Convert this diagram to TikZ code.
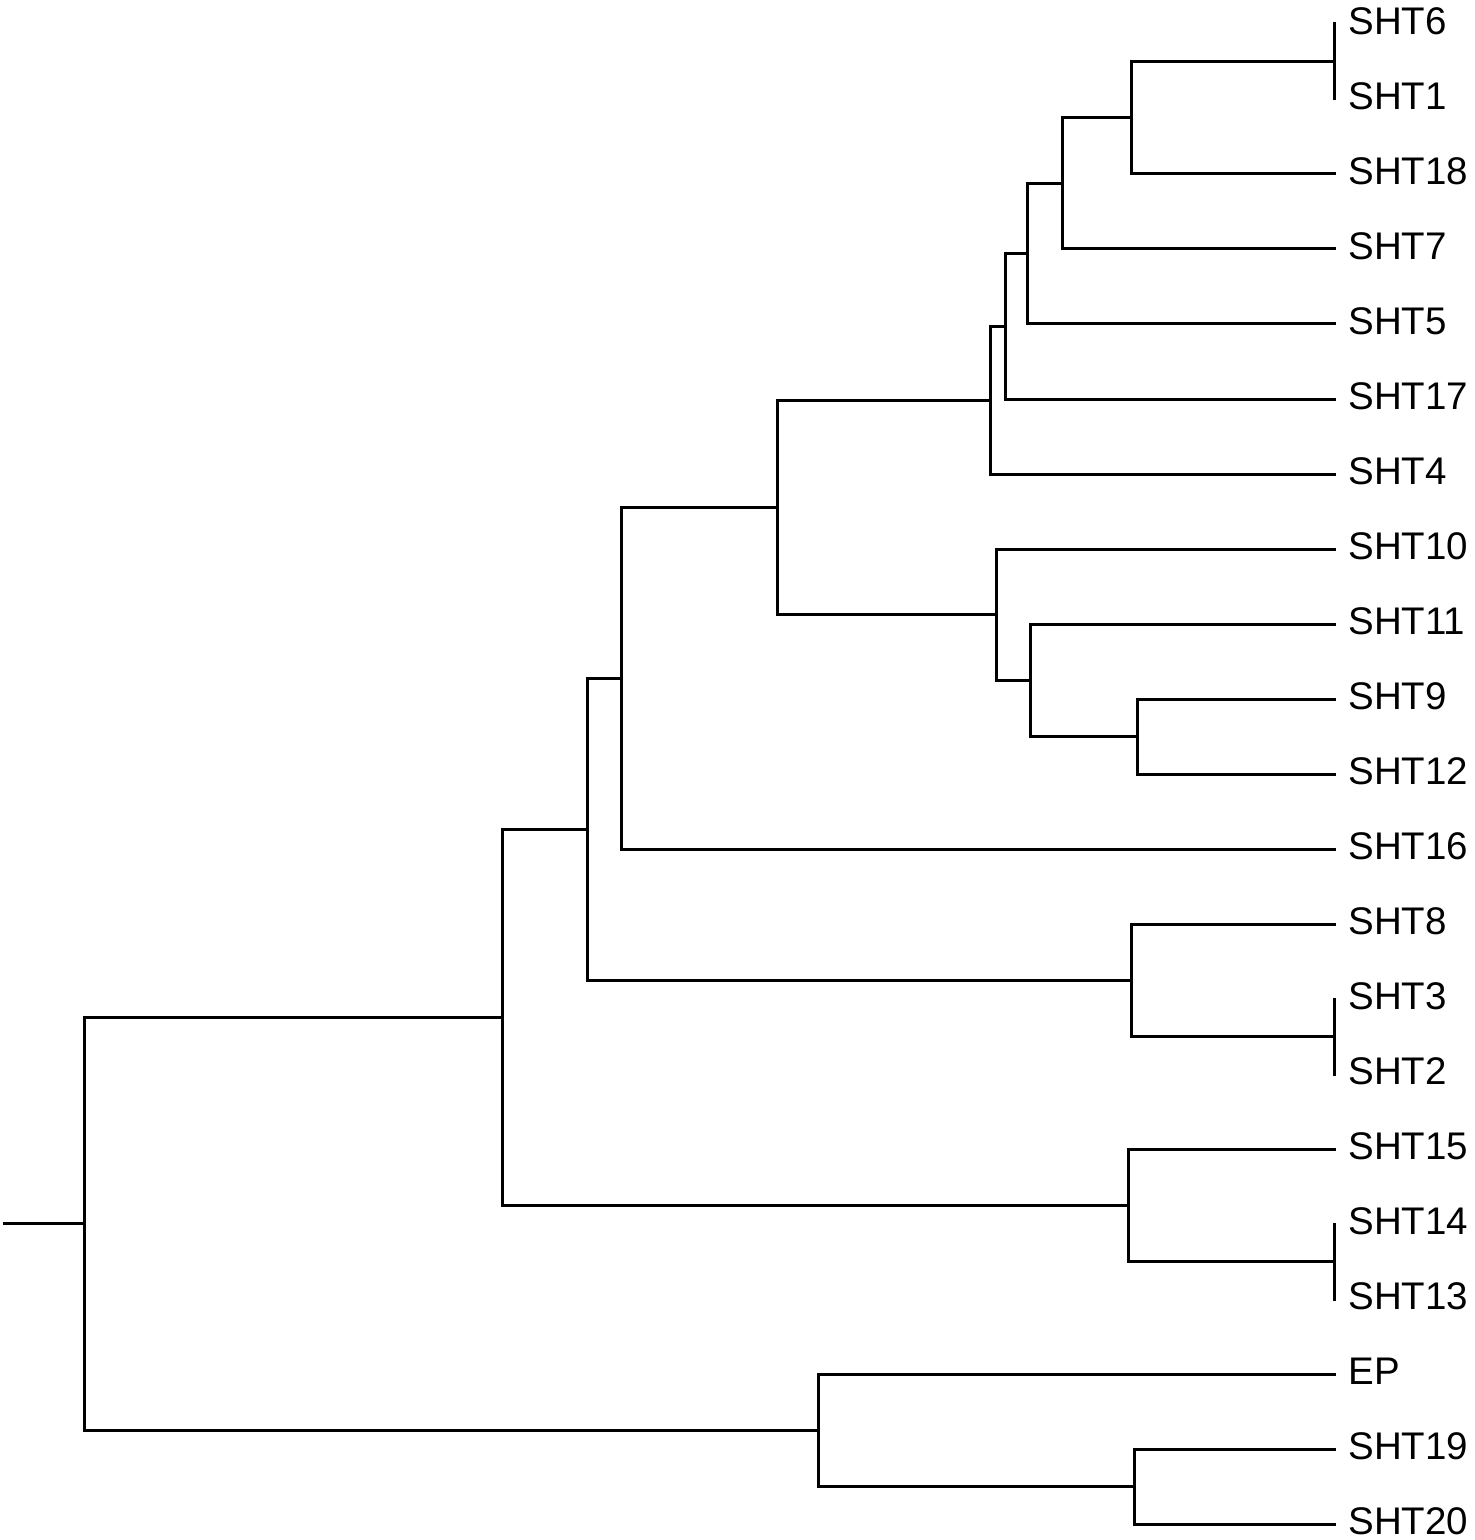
\documentclass[tikz,border=0pt]{standalone}
\usepackage{fontspec}
\setmainfont{Liberation Sans}
\begin{document}
\begin{tikzpicture}[x=0.5pt,y=-0.5pt,
  br/.style={line width=1.5pt,line cap=rect,line join=miter},
  lab/.style={anchor=west,inner sep=0pt,font=\fontsize{19.25pt}{22pt}\selectfont}]
\useasboundingbox (0,0) rectangle (1474,1540);
% leaves
\foreach \n/\y in {SHT6/24,SHT1/99,SHT18/174,SHT7/249,SHT5/324,SHT17/399,SHT4/474,
  SHT10/549,SHT11/624,SHT9/699,SHT12/774,SHT16/849,SHT8/924,SHT3/999,SHT2/1074,
  SHT15/1149,SHT14/1224,SHT13/1299,EP/1374,SHT19/1449,SHT20/1524}{
  \coordinate (l\n) at (1334,\y);
  \node[lab] (t\n) at (1348,\y-3) {\n};
}
% internal nodes
\coordinate (nA1) at (1334,61.5);
\coordinate (nA) at (1131,117.75);
\coordinate (nB) at (1062,183.4);
\coordinate (nC) at (1027,253.7);
\coordinate (nD) at (1005,326.3);
\coordinate (nE) at (990,400.2);
\coordinate (nF) at (1137,736.5);
\coordinate (nG) at (1030,680.25);
\coordinate (nH) at (996,614.6);
\coordinate (nI) at (777,507.4);
\coordinate (nJ) at (621,678.2);
\coordinate (nK1) at (1334,1036.5);
\coordinate (nK) at (1131,980.25);
\coordinate (nL) at (587,829.2);
\coordinate (nM1) at (1334,1261.5);
\coordinate (nM) at (1128,1205.25);
\coordinate (nN) at (502,1017.2);
\coordinate (nO1) at (1134,1486.5);
\coordinate (nO) at (818,1430.25);
\coordinate (nR) at (84,1223.7);
\coordinate (stub) at (4,1223.7);
% branches
\draw[br] (nA1) |- (lSHT6) (nA1) |- (lSHT1);
\draw[br] (nA) |- (nA1) (nA) |- (lSHT18);
\draw[br] (nB) |- (nA) (nB) |- (lSHT7);
\draw[br] (nC) |- (nB) (nC) |- (lSHT5);
\draw[br] (nD) |- (nC) (nD) |- (lSHT17);
\draw[br] (nE) |- (nD) (nE) |- (lSHT4);
\draw[br] (nF) |- (lSHT9) (nF) |- (lSHT12);
\draw[br] (nG) |- (lSHT11) (nG) |- (nF);
\draw[br] (nH) |- (lSHT10) (nH) |- (nG);
\draw[br] (nI) |- (nE) (nI) |- (nH);
\draw[br] (nJ) |- (nI) (nJ) |- (lSHT16);
\draw[br] (nK1) |- (lSHT3) (nK1) |- (lSHT2);
\draw[br] (nK) |- (lSHT8) (nK) |- (nK1);
\draw[br] (nL) |- (nJ) (nL) |- (nK);
\draw[br] (nM1) |- (lSHT14) (nM1) |- (lSHT13);
\draw[br] (nM) |- (lSHT15) (nM) |- (nM1);
\draw[br] (nN) |- (nL) (nN) |- (nM);
\draw[br] (nO1) |- (lSHT19) (nO1) |- (lSHT20);
\draw[br] (nO) |- (lEP) (nO) |- (nO1);
\draw[br] (nR) |- (nN) (nR) |- (nO);
\draw[br] (stub) -- (nR);
\end{tikzpicture}
\end{document}
